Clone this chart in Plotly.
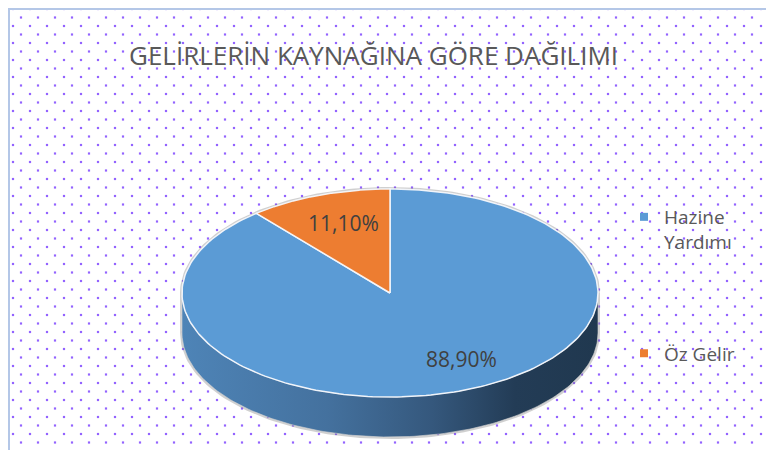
import numpy as np
import plotly.graph_objects as go

# ---- data ----
categories = ["Hazine Yardımı", "Öz Gelir"]
legend_names = ["Hazine<br>Yardımı", "Öz Gelir"]
values = [88.9, 11.1]
title_text = "GELİRLERİN KAYNAĞINA GÖRE DAĞILIMI"

# ---- style ----
W, H = 774, 450
OFF = 8  # page body margin
FW, FH = W - OFF, H - OFF
CX, CY, RX, RY, DEPTH = 390, 293, 208, 104, 40
top_colors = ["#5b9bd5", "#ed7d31"]
side_scales = [
    [[0, "#4e84b7"], [0.35, "#44719e"], [0.6, "#35587d"], [0.8, "#233c56"], [1, "#20384f"]],
    [[0, "#c9692a"], [1, "#7a3d15"]],
]
label_pos = [(461, 359), (343, 223)]
TXT = "#595959"
FONT = "Open Sans"


def pt(theta_deg, dy=0.0):
    t = np.radians(theta_deg)
    return CX + RX * np.cos(t), CY - RY * np.sin(t) + dy


fig = go.Figure()

# dotted background pattern
dx, dyy = [], []
j = 0
y = 9.0
while y < H:
    x = 13.0 if j % 2 == 0 else 21.0
    while x < W:
        dx.append(x)
        dyy.append(y)
        x += 17
    y += 8.5
    j += 1
fig.add_trace(go.Scatter(x=dx, y=dyy, mode="markers",
                         marker=dict(symbol="square", size=2.2, color="#9363ff", line=dict(width=0)),
                         hoverinfo="skip", showlegend=False))

# slice angle ranges (start at 12 o'clock, clockwise)
total = sum(values)
ranges = []
a = 90.0
for v in values:
    b = a - 360.0 * v / total
    ranges.append((b, a))
    a = b

# shadow silhouette
th1 = np.linspace(0, 180, 120)
th2 = np.linspace(180, 360, 120)
sx = [pt(t)[0] for t in th1] + [pt(t, DEPTH)[0] for t in th2] + [pt(0)[0]]
sy = [pt(t)[1] for t in th1] + [pt(t, DEPTH)[1] for t in th2] + [pt(0)[1]]
fig.add_trace(go.Scatter(x=sx, y=sy, mode="lines", line=dict(color="rgba(120,120,120,0.35)", width=4),
                         hoverinfo="skip", showlegend=False))

# sides (front visible part 180..360)
for i, (lo, hi) in enumerate(ranges):
    for k in (-1, 0, 1):
        f0, f1 = 180 + 360 * k, 360 + 360 * k
        s0, s1 = max(lo, f0), min(hi, f1)
        if s1 - s0 <= 0.01:
            continue
        th = np.linspace(s0, s1, 150)
        xs = [pt(t)[0] for t in th] + [pt(t, DEPTH)[0] for t in th[::-1]]
        ys = [pt(t)[1] for t in th] + [pt(t, DEPTH)[1] for t in th[::-1]]
        xs.append(xs[0]); ys.append(ys[0])
        fig.add_trace(go.Scatter(x=xs, y=ys, mode="lines", fill="toself",
                                 fillgradient=dict(type="horizontal", colorscale=side_scales[i]),
                                 line=dict(color="rgba(210,210,210,0.6)", width=1),
                                 hoverinfo="skip", showlegend=False))

# top faces
for i, (lo, hi) in enumerate(ranges):
    th = np.linspace(hi, lo, 240)
    xs = [CX] + [pt(t)[0] for t in th] + [CX]
    ys = [CY] + [pt(t)[1] for t in th] + [CY]
    fig.add_trace(go.Scatter(x=xs, y=ys, mode="lines", fill="toself", fillcolor=top_colors[i],
                             line=dict(color="rgba(245,248,252,0.95)", width=1.5),
                             hoverinfo="skip", showlegend=False))

# data labels
for i, v in enumerate(values):
    lx, ly = label_pos[i]
    fig.add_annotation(x=lx, y=ly, text=f"{v:.2f}%".replace(".", ","), showarrow=False,
                       font=dict(family=FONT, size=21, color="#404040"), xanchor="center", yanchor="middle")

# legend entries
for i, name in enumerate(legend_names):
    fig.add_trace(go.Scatter(x=[None], y=[None], mode="markers", name=name, legendgroup=f"g{i}",
                             marker=dict(symbol="square", size=8, color=top_colors[i])))

# title
fig.add_annotation(x=373.5, y=55, text=title_text, showarrow=False,
                   font=dict(family=FONT, size=26, color=TXT), xanchor="center", yanchor="middle")

# chart border
fig.add_shape(type="rect", x0=9, y0=9, x1=W + 10, y1=H + 10,
              line=dict(color="#b4c7e7", width=2), layer="above")

fig.update_layout(
    width=FW, height=FH,
    margin=dict(l=0, r=0, t=0, b=0),
    paper_bgcolor="white", plot_bgcolor="white",
    xaxis=dict(range=[OFF, W], visible=False, fixedrange=True),
    yaxis=dict(range=[H, OFF], visible=False, fixedrange=True),
    showlegend=True,
    legend=dict(x=(624 - OFF) / FW, y=1 - (198 - OFF) / FH, xanchor="left", yanchor="top",
                font=dict(family=FONT, size=19, color=TXT), bgcolor="rgba(0,0,0,0)",
                tracegroupgap=84, valign="top", itemwidth=30),
)

fig.write_html("out.html", config={"displayModeBar": False})
